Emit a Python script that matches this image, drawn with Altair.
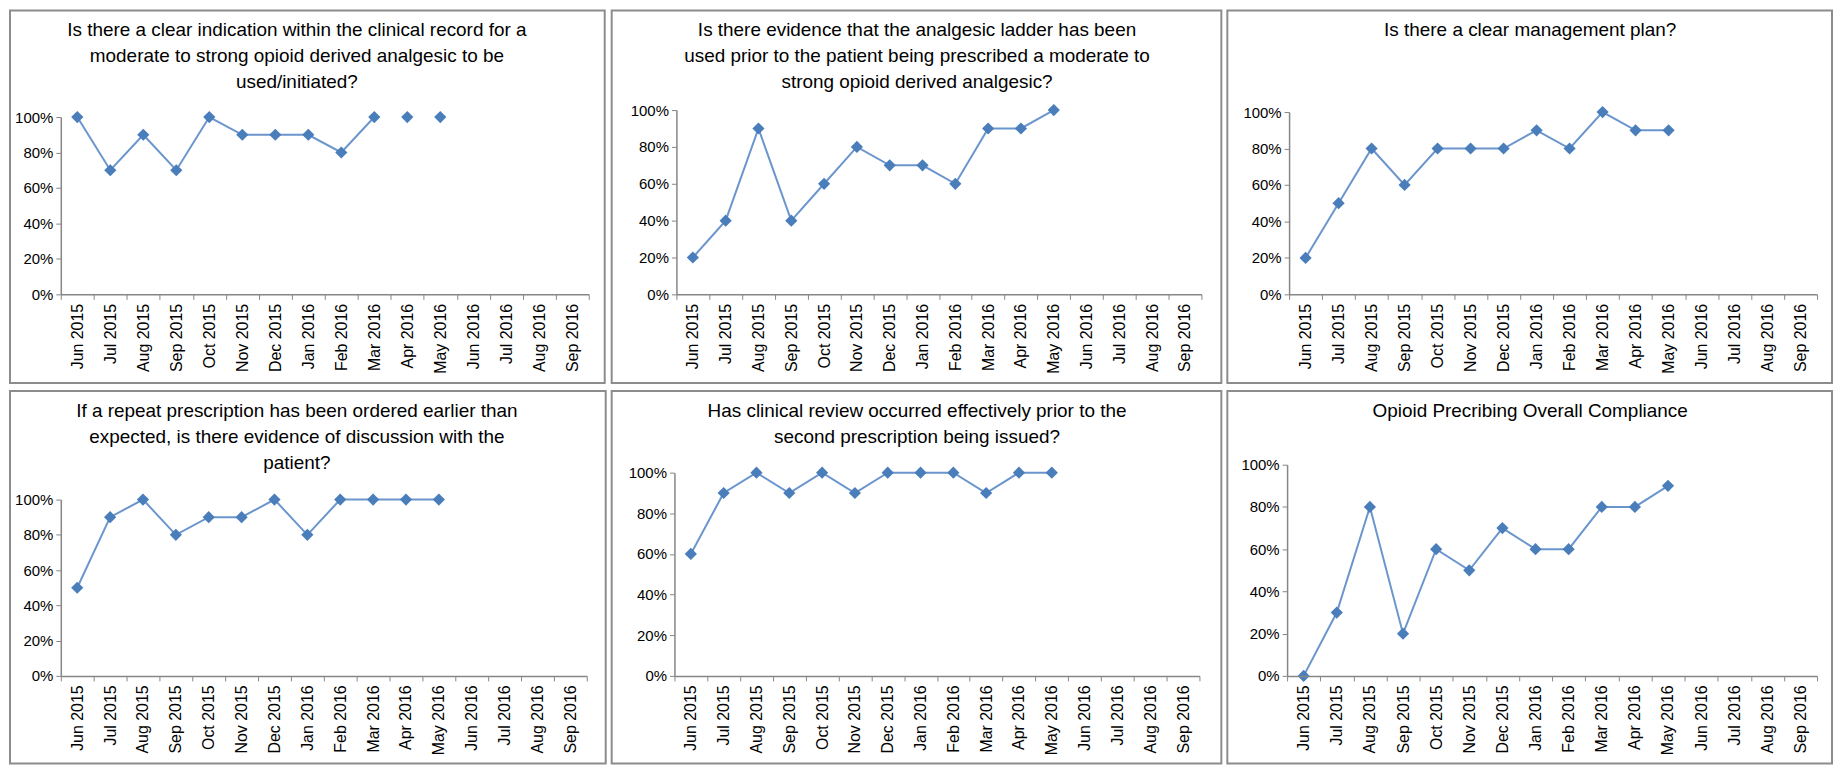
import altair as alt
import pandas as pd

months = ["Jun 2015", "Jul 2015", "Aug 2015", "Sep 2015", "Oct 2015", "Nov 2015",
          "Dec 2015", "Jan 2016", "Feb 2016", "Mar 2016", "Apr 2016", "May 2016",
          "Jun 2016", "Jul 2016", "Aug 2016", "Sep 2016"]

title1 = ["Is there a clear indication within the clinical record for a",
          "moderate to strong opioid derived analgesic to be",
          "used/initiated?"]
title2 = ["Is there evidence that the analgesic ladder has been",
          "used prior to the patient being prescribed a moderate to",
          "strong opioid derived analgesic?"]
title3 = ["Is there a clear management plan?"]
title4 = ["If a repeat prescription has been ordered earlier than",
          "expected, is there evidence of discussion with the",
          "patient?"]
title5 = ["Has clinical review occurred effectively prior to the",
          "second prescription being issued?"]
title6 = ["Opioid Precribing Overall Compliance"]

# values for Jun 2015 .. May 2016 (later months empty)
vals1 = [1.0, 0.7, 0.9, 0.7, 1.0, 0.9, 0.9, 0.9, 0.8, 1.0, 1.0, 1.0]
vals2 = [0.2, 0.4, 0.9, 0.4, 0.6, 0.8, 0.7, 0.7, 0.6, 0.9, 0.9, 1.0]
vals3 = [0.2, 0.5, 0.8, 0.6, 0.8, 0.8, 0.8, 0.9, 0.8, 1.0, 0.9, 0.9]
vals4 = [0.5, 0.9, 1.0, 0.8, 0.9, 0.9, 1.0, 0.8, 1.0, 1.0, 1.0, 1.0]
vals5 = [0.6, 0.9, 1.0, 0.9, 1.0, 0.9, 1.0, 1.0, 1.0, 0.9, 1.0, 1.0]
vals6 = [0.0, 0.3, 0.8, 0.2, 0.6, 0.5, 0.7, 0.6, 0.6, 0.8, 0.8, 0.9]

# how many leading points are joined by the line in each chart
joined1 = 10
joined2 = 12
joined3 = 12
joined4 = 12
joined5 = 12
joined6 = 12

FONT = "Liberation Sans, Arial, sans-serif"
LINE_COLOR = "#5A8AC8"
MARK_COLOR = "#4A7EBB"
AXIS_COLOR = "#868686"

# panel layout (pixels): left margin, plot width, right margin, top margin of the row,
# height of the plotted range, full group height, bottom margin, title dx
H_GAP = 88     # gap between plot areas in a row
ROW1_T, ROW1_G, ROW1_B = 100, 185, 89
ROW2_T, ROW2_G, ROW2_B = 74, 212, 88
layouts = [
    dict(L=51, W=530, R=16, T=ROW1_T, G=ROW1_G, H=178, B=ROW1_B, dx=-28),
    dict(L=65, W=527, R=20, T=ROW1_T, G=ROW1_G, H=185, B=ROW1_B, dx=-22),
    dict(L=62, W=530, R=15, T=ROW1_T, G=ROW1_G, H=183, B=ROW1_B, dx=-23),
    dict(L=51, W=528, R=19, T=ROW2_T, G=ROW2_G, H=177, B=ROW2_B, dx=-27),
    dict(L=63, W=527, R=22, T=ROW2_T, G=ROW2_G, H=204, B=ROW2_B, dx=-20),
    dict(L=60, W=532, R=15, T=ROW2_T, G=ROW2_G, H=212, B=ROW2_B, dx=-22),
]


def panel(title, vals, joined, lay):
    df = pd.DataFrame({"month": months[:len(vals)], "value": vals})
    line_df = df.iloc[:joined]
    xenc = alt.X("month:N", sort=months,
                 scale=alt.Scale(type="band", domain=months, paddingInner=0, paddingOuter=0),
                 axis=alt.Axis(title=None, labelAngle=270, tickBand="extent", tickSize=5,
                               labelFontSize=16, labelPadding=4, labelFont=FONT,
                               labelOverlap=False,
                               domainColor=AXIS_COLOR, tickColor=AXIS_COLOR,
                               labelColor="#000000", domainWidth=1.5, tickWidth=1, zindex=1))
    yenc = alt.Y("value:Q",
                 scale=alt.Scale(domain=[0, 1], nice=False,
                                 range=[lay["G"], lay["G"] - lay["H"]]),
                 axis=alt.Axis(title=None, values=[0, 0.2, 0.4, 0.6, 0.8, 1.0], tickCount=6,
                               format=".0%", grid=False, tickSize=5, labelFontSize=15,
                               labelFont=FONT, labelOverlap=False, labelPadding=3,
                               domainColor=AXIS_COLOR, tickColor=AXIS_COLOR,
                               labelColor="#000000", domainWidth=1.5, tickWidth=1, zindex=1))
    border = alt.Chart(alt.Data(values=[{"k": 1}])).mark_rect(
        fill="white", stroke="#8C8C8C", strokeWidth=2
    ).encode(
        x=alt.value(-lay["L"]), x2=alt.value(lay["W"] + lay["R"]),
        y=alt.value(-lay["T"]), y2=alt.value(lay["G"] + lay["B"]),
    )
    head = alt.Chart(alt.Data(values=[{"t": "\n".join(title)}])).mark_text(
        font=FONT, fontSize=19, lineHeight=26, lineBreak="\n", align="center",
        baseline="top", color="#000000"
    ).encode(
        text="t:N",
        x=alt.value(lay["W"] / 2 + lay["dx"]),
        y=alt.value(-lay["T"] + 11),
    )
    line = alt.Chart(line_df).mark_line(color=LINE_COLOR, strokeWidth=2, opacity=0.9).encode(
        x=xenc, y=yenc)
    pts = alt.Chart(df).mark_point(shape="diamond", filled=True, size=150,
                                   color=MARK_COLOR, opacity=1).encode(
        x=alt.X("month:N", sort=months), y=alt.Y("value:Q"))
    return alt.layer(border, head, line, pts).properties(width=lay["W"], height=lay["G"])


charts = [
    panel(title1, vals1, joined1, layouts[0]),
    panel(title2, vals2, joined2, layouts[1]),
    panel(title3, vals3, joined3, layouts[2]),
    panel(title4, vals4, joined4, layouts[3]),
    panel(title5, vals5, joined5, layouts[4]),
    panel(title6, vals6, joined6, layouts[5]),
]

row1 = alt.hconcat(*charts[:3], spacing=H_GAP, bounds="flush")
row2 = alt.hconcat(*charts[3:], spacing=H_GAP, bounds="flush")
chart = alt.vconcat(row1, row2, spacing=6).properties(
    padding={"left": 1, "top": 0, "right": 0, "bottom": 0},
    background="white",
).configure_view(stroke=None)

chart.save("out.html", embed_options={"renderer": "svg", "actions": False})
